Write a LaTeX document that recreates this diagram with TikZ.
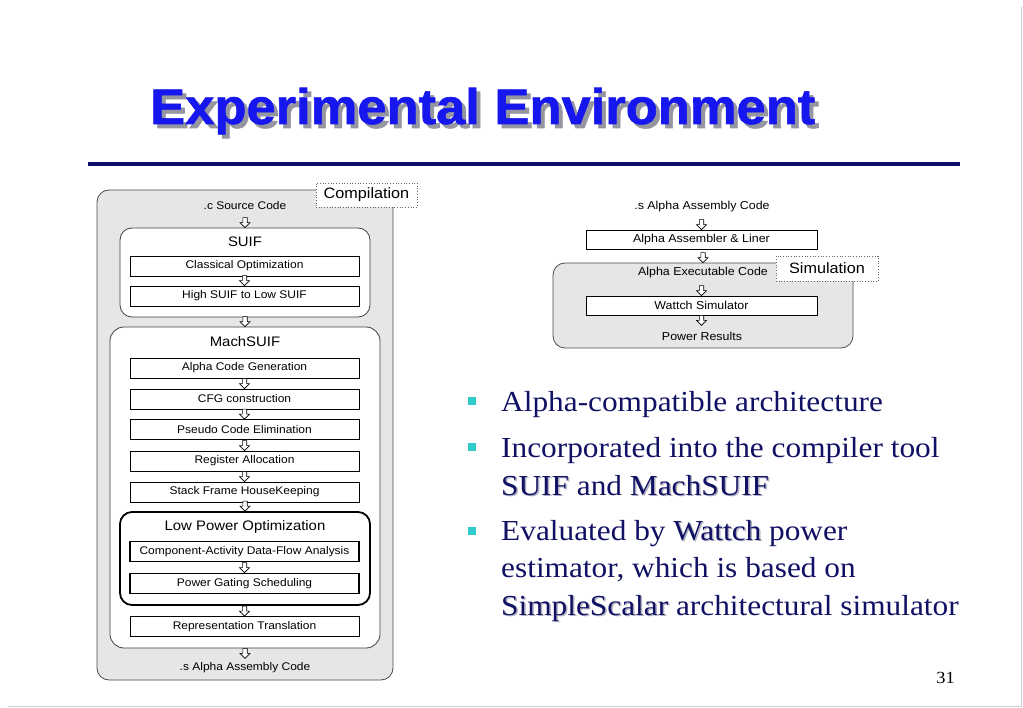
\documentclass[tikz,border=0pt]{standalone}
\usepackage{fontspec}
\setmainfont{Liberation Serif}[FakeStretch=1.08]
\newfontfamily\arialf{Liberation Sans}[FakeStretch=1.08]
\newfontfamily\titlef{Liberation Sans}[FakeStretch=1.05,BoldFeatures={FakeBold=1.2}]
\usetikzlibrary{calc}
\definecolor{navy}{RGB}{16,16,100}
\definecolor{titleblue}{RGB}{22,22,238}
\definecolor{rulenavy}{RGB}{15,15,110}
\definecolor{boxgray}{RGB}{230,230,230}
\definecolor{bulletc}{RGB}{51,204,204}
\definecolor{shadowgray}{RGB}{150,150,160}
\definecolor{softshadow}{RGB}{175,175,190}
\definecolor{framegray}{RGB}{205,205,205}
\newcommand\shd[3]{\rlap{\kern#1\raisebox{-#1}{\textcolor{#2}{#3}}}#3}
\newcommand\arrto[2]{\draw[harrow] let \p1=(#1.south), \p2=(#2.north) in
  (\x2-2.2pt,\y2+10pt) -- (\x2+2.2pt,\y2+10pt) -- (\x2+2.2pt,\y2+5pt) -- (\x2+5pt,\y2+5pt)
  -- (\x2,\y2) -- (\x2-5pt,\y2+5pt) -- (\x2-2.2pt,\y2+5pt) -- cycle;}
\newcommand\arrfrom[2]{\draw[harrow] let \p1=(#1.south), \p2=(#2.north) in
  (\x1-2.2pt,\y1) -- (\x1+2.2pt,\y1) -- (\x1+2.2pt,\y1-5pt) -- (\x1+5pt,\y1-5pt)
  -- (\x1,\y1-10pt) -- (\x1-5pt,\y1-5pt) -- (\x1-2.2pt,\y1-5pt) -- cycle;}
\tikzset{
  harrow/.style={draw=black, fill=white, line width=0.6pt, line join=miter},
  outerbox/.style={draw=black!70, fill=boxgray, rounded corners=12pt, line width=0.8pt, inner sep=0pt},
  grpbox/.style={draw=black!75, fill=white, rounded corners=12pt, line width=0.8pt, inner sep=0pt},
  lpgrp/.style={draw=black, fill=white, rounded corners=12pt, line width=1.8pt, inner sep=0pt},
  stepbox/.style={draw=black, fill=white, line width=0.7pt, minimum width=229pt, minimum height=20pt, inner sep=0pt, font=\arialf\fontsize{11.1}{12}\selectfont},
  lpstep/.style={stepbox, line width=1.8pt},
  rstep/.style={stepbox, minimum width=231pt, minimum height=19pt, font=\arialf\fontsize{11.5}{12}\selectfont},
  txt/.style={inner sep=0.5pt, font=\arialf\fontsize{11.1}{12}\selectfont},
  rtxt/.style={inner sep=0.5pt, font=\arialf\fontsize{11.5}{12}\selectfont},
  grplbl/.style={inner sep=0pt, font=\arialf\fontsize{13.8}{15}\selectfont},
  tagbox/.style={draw=black!60, dotted, fill=white, line width=0.7pt, inner sep=0pt, font=\arialf\fontsize{15}{16}\selectfont},
  bul/.style={anchor=base west, inner sep=0pt, text=navy, font=\fontsize{29}{30}\selectfont},
  bsq/.style={fill=bulletc, minimum size=8pt, inner sep=0pt},
}
\begin{document}
\begin{tikzpicture}[x=1pt,y=-1pt]
\useasboundingbox (0,0) rectangle (1023,708);
\fill[white] (0,0) rectangle (1023,708);
% slide frame
\draw[framegray, line width=1pt] (1021,7) -- (1021,706) -- (8,706);
% title
\node[anchor=base west, inner sep=0pt, text=titleblue, font=\titlef\bfseries\fontsize{50}{52}\selectfont] (title) at (150,124) {\shd{4pt}{shadowgray}{Experimental Environment}};
\draw[rulenavy, line width=4pt] (88,164) -- (960,164);

% ---------------- left diagram
\node[outerbox, minimum width=296pt, minimum height=490pt] (outer) at (245,435) {};
\node[tagbox, minimum width=101pt, minimum height=24pt] (comp) at (366.5,195) {Compilation};
\node[txt] (src) at (245,206) {.c Source Code};
\node[grpbox, minimum width=250pt, minimum height=89pt] (suif) at (245,272.5) {};
\node[grplbl] (suifl) at (245,242) {SUIF};
\node[stepbox] (co) at (244.5,266) {Classical Optimization};
\node[stepbox] (hs) at (244.5,296) {High SUIF to Low SUIF};
\node[grpbox, rounded corners=14pt, minimum width=270pt, minimum height=321pt] (mach) at (245,487.5) {};
\node[grplbl] (machl) at (245,342) {MachSUIF};
\node[stepbox] (acg) at (244.5,368) {Alpha Code Generation};
\node[stepbox] (cfg) at (244.5,399) {CFG construction};
\node[stepbox] (pce) at (244.5,429.5) {Pseudo Code Elimination};
\node[stepbox] (ra) at (244.5,461) {Register Allocation};
\node[stepbox] (sfh) at (244.5,492) {Stack Frame HouseKeeping};
\node[lpgrp, minimum width=250pt, minimum height=93pt] (lp) at (245,558.5) {};
\node[grplbl] (lpl) at (245,527) {Low Power Optimization};
\node[lpstep] (cad) at (244.5,551.5) {Component-Activity Data-Flow Analysis};
\node[lpstep] (pgs) at (244.5,583.5) {Power Gating Scheduling};
\node[stepbox] (rt) at (244.5,626.5) {Representation Translation};
\node[txt] (sout) at (245,668) {.s Alpha Assembly Code};

\arrto{src}{suif}
\arrto{co}{hs}
\arrto{suif}{mach}
\arrto{acg}{cfg}
\arrto{cfg}{pce}
\arrto{pce}{ra}
\arrto{ra}{sfh}
\arrto{sfh}{lp}
\arrto{cad}{pgs}
\arrto{lp}{rt}
\arrfrom{mach}{sout}

% ---------------- right diagram
\node[rtxt] (asm) at (702,207) {.s Alpha Assembly Code};
\node[rstep] (aal) at (701.5,239.5) {Alpha Assembler \& Liner};
\node[outerbox, minimum width=300pt, minimum height=85pt] (simb) at (703,305.5) {};
\node[tagbox, minimum width=102pt, minimum height=25pt] (simt) at (827,268.5) {Simulation};
\node[rtxt] (exe) at (703,273) {Alpha Executable Code};
\node[rstep] (ws) at (701.5,305.5) {Wattch Simulator};
\node[rtxt] (pr) at (702,336) {Power Results};

\arrto{asm}{aal}
\arrto{aal}{simb}
\arrto{exe}{ws}
\arrfrom{ws}{pr}

% ---------------- bullets
\node[bsq] (b1) at (472,401) {};
\node[bsq] (b2) at (472,447) {};
\node[bsq] (b3) at (472,531) {};
\node[bul] (l1) at (501,412) {Alpha-compatible architecture};
\node[bul] (l2) at (501,457) {Incorporated into the compiler tool};
\node[bul] (l3) at (501,495) {\shd{1.5pt}{softshadow}{SUIF} and \shd{1.5pt}{softshadow}{MachSUIF}};
\node[bul] (l4) at (501,540) {Evaluated by \shd{1.5pt}{softshadow}{Wattch} power};
\node[bul] (l5) at (501,577) {estimator, which is based on};
\node[bul] (l6) at (501,615) {\shd{1.5pt}{softshadow}{SimpleScalar} architectural simulator};
\node[anchor=base east, inner sep=0pt, font=\fontsize{17}{18}\selectfont] (pg) at (955,683) {31};
\end{tikzpicture}
\end{document}
